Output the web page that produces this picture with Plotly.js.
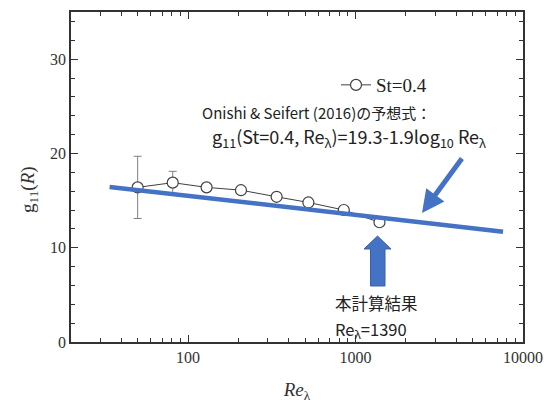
<!DOCTYPE html>
<html><head><meta charset="utf-8">
<script src="https://cdn.plot.ly/plotly-3.0.1.min.js"></script>
<style>html,body{margin:0;padding:0;background:#fff}#chart{width:550px;height:404px}</style>
</head><body><div id="chart"></div>
<script>
// Simulation results, St = 0.4
const reLambda = [50, 81, 129, 207, 338, 523, 851, 1390];
const g11 = [16.4, 16.9, 16.4, 16.1, 15.4, 14.8, 14.0, 12.7];
const g11Err = [3.3, 1.2, 0.3, 0.3, 0.3, 0.3, 0.3, 0.3];
// Onishi & Seifert (2016) prediction line (end points)
const predRe = [34, 7600];
const predG = [16.45, 11.7];
// Axis ticks
const xMajorTicks = [100, 1000, 10000];
const xMinorTicks = [20,30,40,50,60,70,80,90,200,300,400,500,600,700,800,900,2000,3000,4000,5000,6000,7000,8000,9000];

const L = 71, R = 523, T = 12, B = 342;
const px = v => (v - L) / (R - L);
const py = v => (B - v) / (B - T);

const blue = '#4472C4';
const serif = 'Liberation Serif';
const jp = 'Noto Sans CJK JP';

const traces = [
  {
    x: reLambda, y: g11, type: 'scatter', mode: 'lines+markers', name: 'St=0.4',
    line: {color: '#404040', width: 1},
    marker: {symbol: 'circle', size: 11, color: '#ffffff', line: {color: '#404040', width: 1.2}},
    error_y: {type: 'data', array: g11Err, visible: true, color: '#808080', thickness: 1, width: 4}
  },
  {
    x: predRe, y: predG, type: 'scatter', mode: 'lines', showlegend: false,
    line: {color: blue, width: 4.5}
  }
];

// block arrow pointing up at the Re=1390 result
const tipX = 377.5, tipY = 236, headY = 249, baseY = 286;
const arrowPath = 'M ' + px(tipX) + ' ' + py(tipY) +
  ' L ' + px(391) + ' ' + py(headY) +
  ' L ' + px(385) + ' ' + py(headY) +
  ' L ' + px(385) + ' ' + py(baseY) +
  ' L ' + px(370.5) + ' ' + py(baseY) +
  ' L ' + px(370.5) + ' ' + py(headY) +
  ' L ' + px(364) + ' ' + py(headY) + ' Z';

const layout = {
  width: 550, height: 404,
  margin: {l: L, r: 550 - R, t: T, b: 404 - B},
  paper_bgcolor: '#ffffff', plot_bgcolor: '#ffffff',
  showlegend: true,
  legend: {x: px(336), y: py(85), xanchor: 'left', yanchor: 'middle',
    font: {family: serif, size: 19, color: '#222'}, bgcolor: 'rgba(0,0,0,0)'},
  xaxis: {
    type: 'log', range: [Math.log10(20), 4],
    tickmode: 'array', tickvals: xMajorTicks, ticktext: xMajorTicks.map(String),
    ticks: 'inside', ticklen: 7, tickwidth: 1.2, tickcolor: '#333',
    showline: true, linecolor: '#333', linewidth: 1.5, mirror: 'ticks',
    showgrid: false, zeroline: false,
    tickfont: {family: serif, size: 16, color: '#333'},
    minor: {tickmode: 'array', tickvals: xMinorTicks, ticks: 'inside', ticklen: 4, tickwidth: 1, tickcolor: '#333', showgrid: false},
    title: {text: '<i>Re</i><sub>λ</sub>', font: {family: serif, size: 19, color: '#333'}, standoff: 18}
  },
  yaxis: {
    range: [0, 35], dtick: 10, tick0: 0,
    ticks: 'inside', ticklen: 7, tickwidth: 1.2, tickcolor: '#333',
    showline: true, linecolor: '#333', linewidth: 1.5, mirror: 'ticks',
    showgrid: false, zeroline: false,
    tickfont: {family: serif, size: 16, color: '#333'},
    minor: {dtick: 2, ticks: 'inside', ticklen: 4, tickwidth: 1, tickcolor: '#333', showgrid: false}
  },
  shapes: [
    {type: 'path', xref: 'paper', yref: 'paper', path: arrowPath,
     fillcolor: blue, line: {color: '#3a62a8', width: 1}}
  ],
  annotations: [
    {xref: 'paper', yref: 'paper', x: px(29), y: py(190), xanchor: 'center', yanchor: 'middle',
     textangle: -90, text: 'g<sub>11</sub>(<i>R</i>)', showarrow: false,
     font: {family: serif, size: 19, color: '#333'}},
    {xref: 'paper', yref: 'paper', x: px(200), y: py(113), xanchor: 'left', yanchor: 'middle',
     text: 'Onishi & Seifert (2016)の予想式：', showarrow: false,
     font: {family: jp, size: 15, color: '#222'}},
    {xref: 'paper', yref: 'paper', x: px(210), y: py(137), xanchor: 'left', yanchor: 'middle',
     text: 'g<sub>11</sub>(St=0.4, Re<sub>λ</sub>)=19.3-1.9log<sub>10</sub> Re<sub>λ</sub>', showarrow: false,
     font: {family: jp, size: 18, color: '#222'}},
    {xref: 'paper', yref: 'paper', x: px(333), y: py(303), xanchor: 'left', yanchor: 'middle',
     text: '本計算結果', showarrow: false, font: {family: jp, size: 16.5, color: '#222'}},
    {xref: 'paper', yref: 'paper', x: px(333), y: py(329), xanchor: 'left', yanchor: 'middle',
     text: 'Re<sub>λ</sub>=1390', showarrow: false, font: {family: jp, size: 16.5, color: '#222'}},
    {xref: 'paper', yref: 'paper', x: px(422), y: py(213), ax: 41, ay: -56,
     text: '', showarrow: true, arrowhead: 2, arrowsize: 0.9, arrowwidth: 5, arrowcolor: blue}
  ]
};

Plotly.newPlot('chart', traces, layout, {displayModeBar: false});
</script>
</body></html>
